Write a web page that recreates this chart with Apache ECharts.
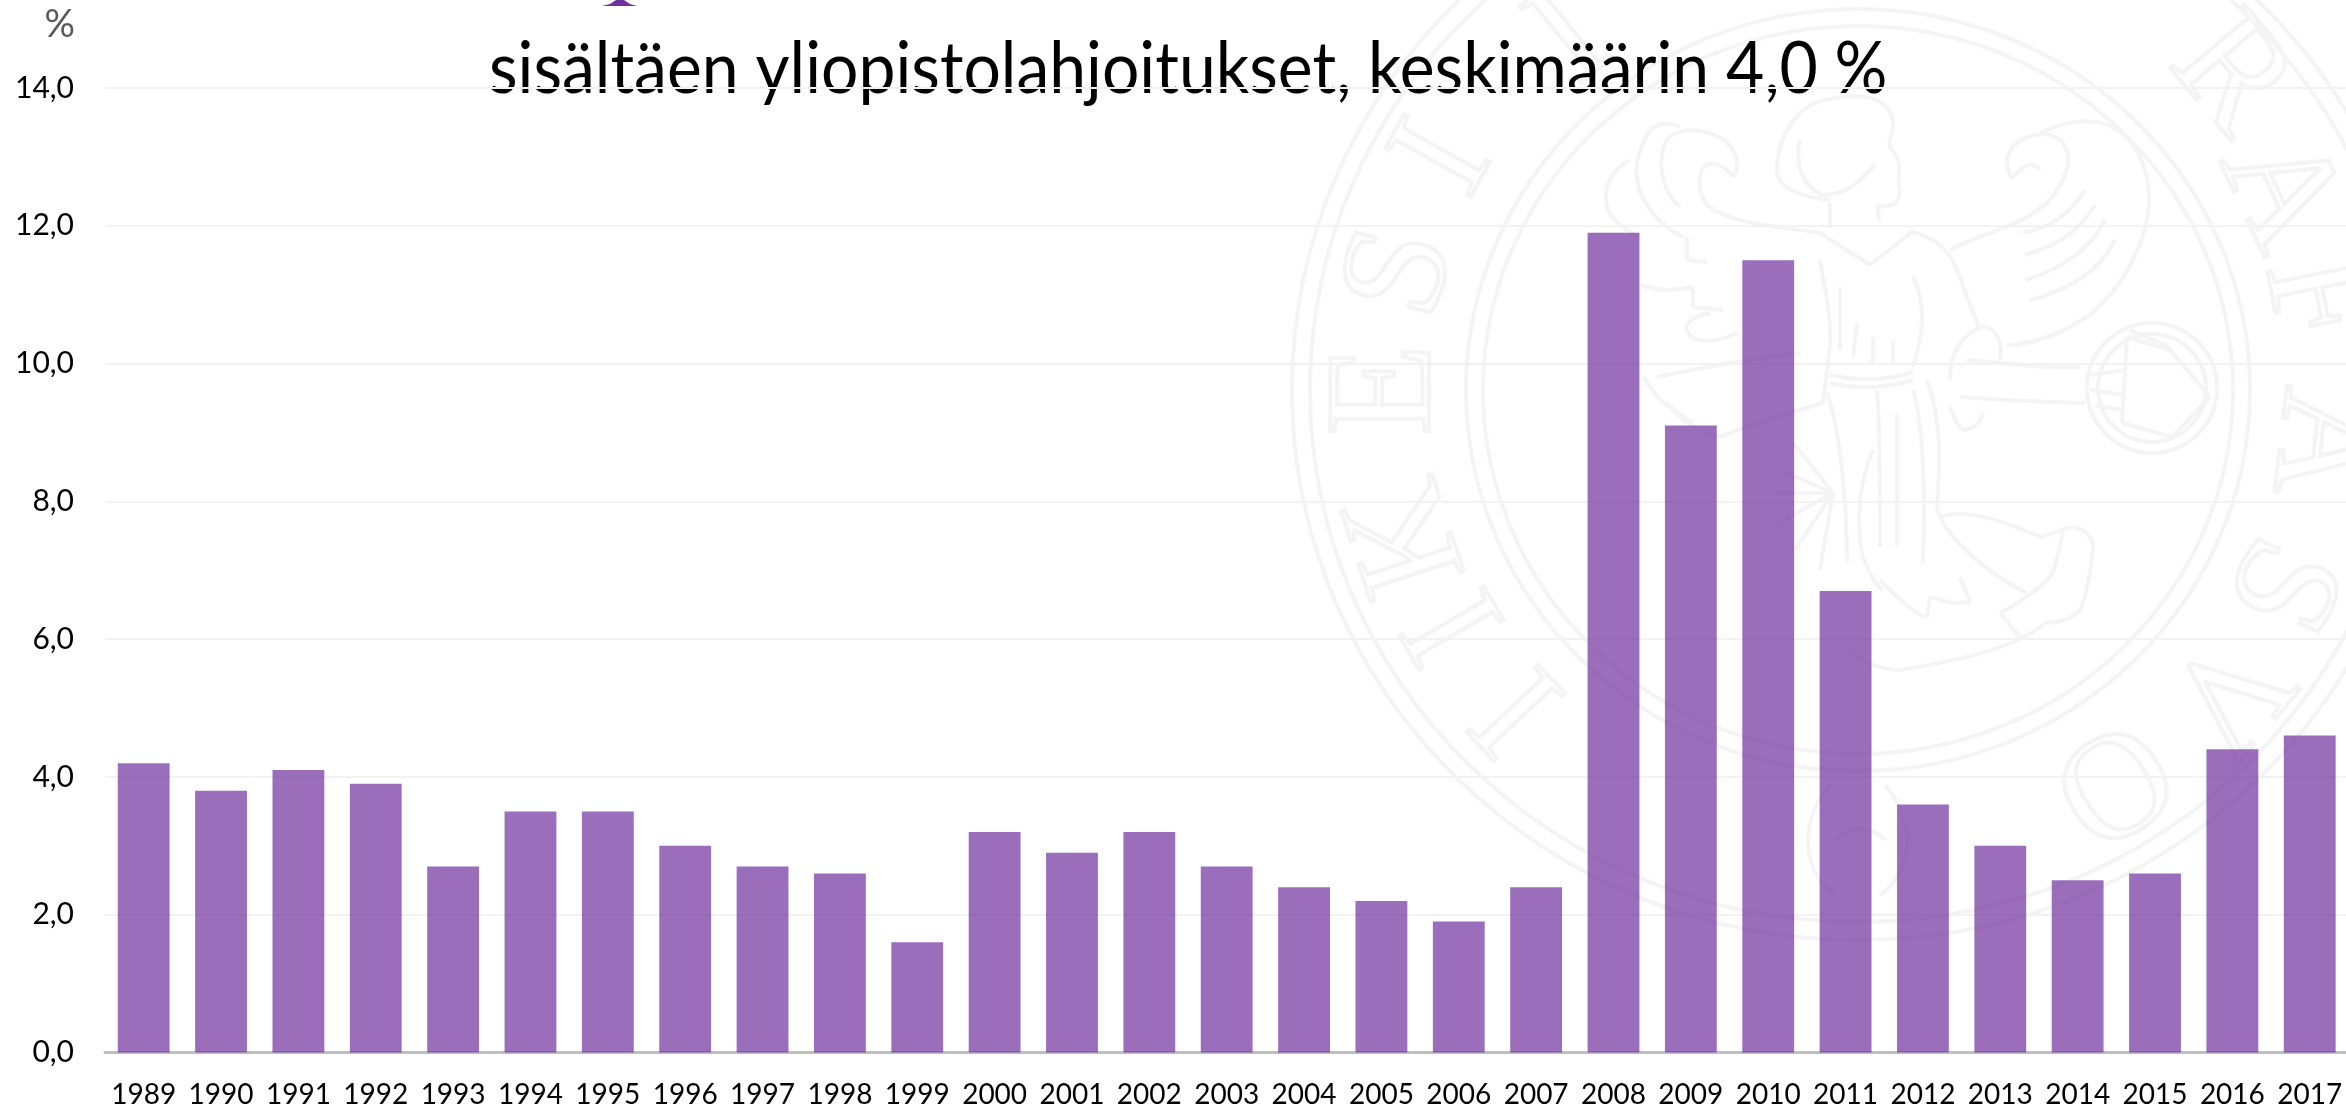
<!DOCTYPE html>
<html>
<head>
<meta charset="utf-8">
<style>html,body{margin:0;padding:0;background:#fff;overflow:hidden}#c{width:2346px;height:1105px}</style>
<script src="https://cdn.jsdelivr.net/npm/echarts@6/dist/echarts.min.js"></script>
</head>
<body>
<div id="c"></div>
<script>
const years = ['1989','1990','1991','1992','1993','1994','1995','1996','1997','1998','1999','2000','2001','2002','2003','2004','2005','2006','2007','2008','2009','2010','2011','2012','2013','2014','2015','2016','2017'];
const values = [4.2,3.8,4.1,3.9,2.7,3.5,3.5,3.0,2.7,2.6,1.6,3.2,2.9,3.2,2.7,2.4,2.2,1.9,2.4,11.9,9.1,11.5,6.7,3.6,3.0,2.5,2.6,4.4,4.6];
const titleText = 'sisältäen yliopistolahjoitukset, keskimäärin 4,0 %';
const unitText = '%';

// Decorative seal watermark behind the plot
const sealLine = '#f4f4f4';
const sealWidth = 4;
const cx = 1858, cy = 390;
const sealLetters = [
  ['I',1523,706],['I',1460,623],['K',1411,536],['E',1390,390],['S',1404,273],['I',1446,160],['I',1572,40],
  ['R',2229,77],['A',2278,193],['F',2313,300],['A',2320,443],['S',2278,583],['V',2222,691],['O',2110,778]
];
const sealRings = [[566,550],[548,532],[392,381],[375,364]];
const sealPaths = [
  // head
  'M1830 200 C1790 195 1775 185 1777 165 C1780 130 1800 105 1825 100 C1850 95 1885 90 1893 120 C1895 135 1885 140 1892 150 C1905 165 1895 175 1900 190 C1900 205 1890 208 1877 205 L1880 222',
  'M1830 203 L1830 228',
  'M1800 140 C1795 160 1800 185 1822 195 C1850 195 1860 180 1875 165',
  // collar and shoulder
  'M1820 233 L1870 265 L1912 232',
  'M1910 232 C1930 235 1945 245 1955 265 L1978 325',
  // right wing
  'M1950 250 C1985 230 2040 225 2060 185 C2080 150 2060 130 2035 135 C2010 140 2000 160 2012 178 C2025 165 2030 160 2040 170',
  'M2040 133 C2090 110 2130 120 2145 170 C2160 220 2130 280 2090 315 C2060 335 2030 345 2007 345',
  'M2030 300 C2070 290 2100 270 2115 240','M2025 280 C2060 270 2090 250 2105 220','M2025 255 C2060 245 2080 230 2095 205','M2023 233 C2050 228 2070 215 2085 190',
  // left wing
  'M1820 233 C1790 228 1745 225 1720 213 C1700 205 1695 185 1703 167 C1712 160 1725 165 1733 177',
  'M1733 177 C1745 160 1730 135 1700 131 C1680 128 1665 135 1663 150 C1658 170 1665 195 1680 207',
  'M1680 127 C1660 118 1645 125 1637 163 C1633 190 1650 220 1683 237',
  'M1630 160 C1610 170 1603 190 1607 207 C1612 220 1625 230 1640 237',
  'M1687 237 L1687 260 L1707 262','M1640 285 C1660 292 1680 290 1693 287 L1693 307 L1723 310','M1710 313 C1695 315 1682 325 1687 330 C1690 342 1712 345 1737 333',
  'M1657 377 C1690 370 1745 360 1800 353','M1667 403 C1680 420 1700 433 1720 437 C1750 425 1780 415 1823 403','M1643 377 L1660 400 L1693 423',
  // robe and belt
  'M1820 260 C1825 290 1832 320 1830 345 L1823 403',
  'M1830 375 C1850 380 1885 382 1913 372','M1830 383 C1850 388 1885 390 1913 380',
  'M1840 287 L1840 350','M1873 337 L1873 363','M1893 340 L1893 363','M1857 323 L1853 357','M1913 277 C1925 300 1925 330 1913 367',
  // skirt folds
  'M1877 390 C1880 420 1880 480 1880 547','M1897 413 C1897 450 1897 500 1897 547','M1913 390 C1925 430 1925 500 1923 563',
  'M1927 380 C1945 430 1938 480 1937 507 C1940 530 1980 570 2027 593',
  'M1827 393 C1840 430 1847 500 1847 563','M1873 450 C1860 480 1855 520 1863 557 C1868 570 1875 585 1883 590',
  // hem and foot
  'M1940 517 C1960 510 1990 515 2040 537 C2050 535 2060 530 2067 528 C2080 525 2095 535 2093 550 C2090 575 2085 600 2080 610 C2070 620 2055 623 2043 623',
  'M2063 530 C2060 550 2055 565 2053 573 C2040 590 2015 605 2000 613 L2020 637',
  'M2043 625 C2010 650 1960 660 1900 670 C1880 670 1860 660 1850 650',
  'M1880 580 C1895 595 1915 615 1927 617 L1930 597 C1938 598 1945 602 1953 603 L1970 602 L1960 577',
  // arm and sleeve
  'M1967 360 C2000 362 2050 370 2080 367','M1960 397 C2000 400 2050 402 2085 403',
  'M1950 380 C1950 360 1955 340 1980 327 C1995 325 2003 340 2000 360',
  'M1950 407 C1955 420 1960 430 1963 430 C1975 430 1982 420 1983 413',
  // globe facets
  'M2127 337 L2170 350 L2210 397 L2172 437 L2122 423 L2127 337',
  'M2130 330 C2150 340 2170 345 2170 350','M2090 375 L2125 370','M2090 390 L2125 395','M2095 405 L2122 410',
  // rays
  'M1833 493 L1793 443','M1833 493 L1780 470','M1833 493 L1772 493','M1833 493 L1775 525','M1833 493 L1795 550','M1833 493 L1820 570',
  // ornament below ring
  'M1830 785 C1800 820 1800 870 1835 895','M1885 785 C1915 820 1915 870 1880 895','M1835 840 C1850 825 1870 825 1885 840'
];
function pathToElements(d) {
  const out = [], t = d.match(/[MLC]|-?[\d.]+/g);
  let i = 0, x = 0, y = 0, cmd = '';
  const lineStyle = {fill:'none', stroke:sealLine, lineWidth:sealWidth};
  while (i < t.length) {
    if (/[MLC]/.test(t[i])) cmd = t[i++];
    if (cmd === 'M') { x = +t[i++]; y = +t[i++]; }
    else if (cmd === 'L') {
      const nx = +t[i++], ny = +t[i++];
      out.push({type:'line', z:-10, silent:true, shape:{x1:x,y1:y,x2:nx,y2:ny}, style:lineStyle});
      x = nx; y = ny;
    } else {
      const a=+t[i++],b=+t[i++],c=+t[i++],e=+t[i++],nx=+t[i++],ny=+t[i++];
      out.push({type:'bezierCurve', z:-10, silent:true,
        shape:{x1:x,y1:y,cpx1:a,cpy1:b,cpx2:c,cpy2:e,x2:nx,y2:ny}, style:lineStyle});
      x = nx; y = ny;
    }
  }
  return out;
}
function sealElements() {
  const els = [];
  sealRings.forEach(r => els.push({type:'ellipse', z:-10, silent:true,
    shape:{cx:cx, cy:cy, rx:r[0], ry:r[1]}, style:{fill:'none', stroke:sealLine, lineWidth:sealWidth}}));
  sealLetters.forEach(l => {
    const ang = Math.atan2(l[2]-cy, l[1]-cx);
    els.push({type:'text', z:-10, silent:true, x:l[1], y:l[2], rotation:-(ang+Math.PI/2),
      style:{text:l[0], font:'150px "Liberation Serif"', fill:'rgba(255,255,255,0)', stroke:sealLine, lineWidth:sealWidth,
             textAlign:'center', textVerticalAlign:'middle'}});
  });
  sealPaths.forEach(p => pathToElements(p).forEach(e => els.push(e)));
  [[65,65],[54,54]].forEach(r => els.push({type:'ellipse', z:-10, silent:true,
    shape:{cx:2152, cy:388, rx:r[0], ry:r[1]}, style:{fill:'none', stroke:sealLine, lineWidth:sealWidth}}));
  // clipped purple glyph foot at the very top edge
  els.push({type:'polygon', z:5, silent:true,
    shape:{points:[[602,6],[610,4],[616,0],[624,0],[630,4],[637,6]]},
    style:{fill:'#7030a0'}});
  // chart heading, beneath the gridlines as in the source
  els.push({type:'text', z:-1, silent:true, x:489, y:35, scaleX:0.93,
    style:{text:titleText, font:'71px Lato', fill:'#000000', textAlign:'left', textVerticalAlign:'top'}});
  return els;
}

const chart = echarts.init(document.getElementById('c'), null, {renderer:'canvas', width:2346, height:1105});
chart.setOption({
  animation:false,
  backgroundColor:'#ffffff',
  grid:{left:105, right:-2.4, top:88, bottom:52.5, outerBoundsMode:'none'},
  xAxis:{type:'category', data:years,
    axisTick:{show:false},
    axisLine:{lineStyle:{color:'#bfbfbf', width:3}},
    axisLabel:{interval:0, margin:28, fontFamily:'Lato', fontSize:28, color:'#000000', hideOverlap:false},
    splitLine:{show:false}},
  yAxis:{type:'value', min:0, max:14, interval:2,
    name:unitText, nameLocation:'end', nameGap:44,
    nameTextStyle:{fontFamily:'Lato', fontSize:38, color:'#595959', align:'right', padding:[0,30,0,0]},
    axisLine:{show:false}, axisTick:{show:false},
    axisLabel:{margin:31, fontFamily:'Lato', fontSize:30, color:'#000000',
      formatter:v => v.toFixed(1).replace('.',',')},
    splitLine:{lineStyle:{color:'#f2f2f2', width:2}}},
  series:[{type:'bar', data:values, barCategoryGap:'33%',
    itemStyle:{color:'rgba(112,48,160,0.7)'}}],
  graphic:{elements:sealElements()}
});
</script>
</body>
</html>
